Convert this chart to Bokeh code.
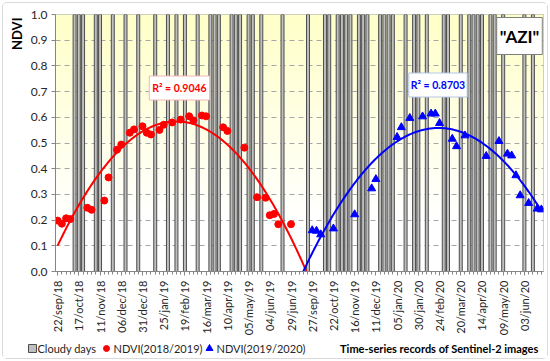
import numpy as np
from bokeh.plotting import figure
from bokeh.layouts import column
from bokeh.models import FixedTicker, Label, Range1d, Title
from bokeh.embed import file_html
from bokeh.resources import INLINE
from bokeh.core.properties import value

# ---------------- data (category index = Sentinel-2 acquisition slot) ----------------
tick_positions = list(range(0, 115, 5))
tick_labels = ["22/sep/18", "17/oct/18", "11/nov/18", "06/dec/18", "31/dec/18",
               "25/jan/19", "19/feb/19", "16/mar/19", "10/apr/19", "05/may/19",
               "04/jun/19", "29/jun/19", "27/sep/19", "22/oct/19", "16/nov/19",
               "11/dec/19", "05/jan/20", "30/jan/20", "24/feb/20", "20/mar/20",
               "14/apr/20", "09/may/20", "03/jun/20"]

cloudy_x = [4, 5, 6, 9, 10, 13, 16, 19, 23, 26, 28, 30, 33, 36, 37, 38, 41, 42, 43,
            45, 46, 48, 53, 59, 63, 64, 66, 67, 68, 69, 71, 72, 73, 76, 77, 78, 79,
            82, 84, 85, 87, 91, 92, 95, 97, 98, 99, 100, 102, 103, 105, 110, 112]

red_x = [0, 1, 2, 3, 7, 8, 11, 12, 14, 15, 17, 18, 20, 21, 22, 24, 25, 27, 29, 31,
         32, 34, 35, 39, 40, 44, 47, 49, 50, 51, 52, 55]
red_y = [0.198, 0.186, 0.207, 0.204, 0.248, 0.240, 0.276, 0.366, 0.474, 0.494,
         0.540, 0.553, 0.565, 0.540, 0.533, 0.551, 0.571, 0.580, 0.591, 0.604,
         0.588, 0.607, 0.604, 0.561, 0.547, 0.482, 0.289, 0.287, 0.219, 0.224,
         0.184, 0.184]

blue_x = [60, 61, 62, 65, 70, 74, 75, 80, 81, 83, 86, 88, 89, 90, 93, 94, 96, 101,
          104, 106, 107, 108, 109, 111, 113, 114]
blue_y = [0.160, 0.158, 0.144, 0.167, 0.222, 0.323, 0.359, 0.523, 0.561, 0.597,
          0.603, 0.614, 0.614, 0.577, 0.516, 0.487, 0.529, 0.449, 0.507, 0.458,
          0.451, 0.374, 0.296, 0.266, 0.244, 0.241]

r2_red = "R\u00b2 = 0.9046"
r2_blue = "R\u00b2 = 0.8703"
site = "\"AZI\""
legend_labels = ["Cloudy days", "NDVI(2018/2019)", "NDVI(2019/2020)"]
footer = "Time-series records of Sentinel-2 images"

FONT = "Lato"
N_CAT = 115
C_RED, C_BLUE = "#FF0000", "#0000FF"
BAR_FILL, BAR_LINE = "#BFBFBF", "#4D4D4D"

p = figure(width=544, height=335, output_backend="svg", toolbar_location=None,
           x_range=Range1d(-0.5, N_CAT - 0.5), y_range=Range1d(0, 1.0),
           min_border_left=50, min_border_right=4, min_border_top=11, min_border_bottom=67,
           background_fill_color="white", border_fill_color="white")
p.outline_line_color = "#BFBFBF"
p.frame_align = False

# gradient background (pale yellow at top -> white)
rows = 256
img = np.zeros((rows, 1), dtype=np.uint32)
view = img.view(dtype=np.uint8).reshape((rows, 1, 4))
for i in range(rows):
    yv = i / (rows - 1)
    t = min(max((yv - 0.2) / 0.8, 0.0), 1.0)
    view[i, 0, 0] = 255
    view[i, 0, 1] = 255
    view[i, 0, 2] = int(round(255 - t * 55))
    view[i, 0, 3] = 255
p.image_rgba(image=[img], x=-0.5, y=0, dw=N_CAT, dh=1.0, level="image")

# grid
p.xgrid.visible = False
p.ygrid.grid_line_color = "#A6A6A6"
p.ygrid.grid_line_dash = "5 4"
p.ygrid.grid_line_width = 1

# cloudy bars
p.vbar(x=cloudy_x, top=1.0, bottom=0, width=0.7, fill_color=BAR_FILL,
       line_color=BAR_LINE, line_width=1)

# trend lines (2nd-order polynomial fit, as in the original)
xs = np.linspace(0, N_CAT - 1, 400)
rc = np.polyfit(red_x, red_y, 2)
bc = np.polyfit(blue_x, blue_y, 2)
p.line(xs, np.polyval(rc, xs), line_color=C_RED, line_width=2)
p.line(xs, np.polyval(bc, xs), line_color=C_BLUE, line_width=2)

p.scatter(red_x, red_y, marker="circle", size=7, fill_color=C_RED, line_color=C_RED)
p.scatter(blue_x, blue_y, marker="triangle", size=8, fill_color=C_BLUE, line_color=C_BLUE)

# axes
xa = p.xaxis[0]
xa.ticker = FixedTicker(ticks=tick_positions, minor_ticks=list(range(N_CAT)))
xa.major_label_overrides = {t: l for t, l in zip(tick_positions, tick_labels)}
xa.major_label_orientation = np.pi / 2
xa.major_label_text_font = FONT
xa.major_label_text_font_size = "11px"
xa.major_label_text_color = "#262626"
xa.major_label_standoff = 5
xa.major_tick_in = 0
xa.major_tick_out = 4
xa.minor_tick_in = 0
xa.minor_tick_out = 3
xa.axis_line_color = "#868686"
xa.major_tick_line_color = "#868686"
xa.minor_tick_line_color = "#868686"

ya = p.yaxis[0]
ya.ticker = FixedTicker(ticks=[i / 10 for i in range(11)])
ya.major_label_overrides = {i / 10: f"{i/10:.1f}" for i in range(11)}
ya.major_label_text_font = FONT
ya.major_label_text_font_size = "12px"
ya.major_label_text_color = "#262626"
ya.major_label_standoff = 4
ya.major_tick_in = 0
ya.major_tick_out = 4
ya.minor_tick_line_color = None
ya.axis_line_color = "#868686"
ya.major_tick_line_color = "#868686"

# y-axis title (near the top, as in the original)
p.add_layout(Title(text="NDVI", align="right", offset=3, text_font=FONT,
                   text_font_size="13px", text_font_style="bold",
                   text_color="#000000", standoff=6), "left")

# R2 boxes
p.add_layout(Label(x=124, y=183.5, x_units="screen", y_units="screen", text=r2_red,
                   text_align="center", text_baseline="middle", text_font=FONT,
                   text_font_size="10.5px", text_font_style="bold", text_color=C_RED,
                   background_fill_color="white", border_line_color="#F4B6B6",
                   border_line_width=1, padding=dict(left=3, right=3, top=6, bottom=6)))
p.add_layout(Label(x=382.5, y=186.5, x_units="screen", y_units="screen", text=r2_blue,
                   text_align="center", text_baseline="middle", text_font=FONT,
                   text_font_size="10.5px", text_font_style="bold", text_color=C_BLUE,
                   background_fill_color="white", border_line_color="#B4C7E7",
                   border_line_width=1, padding=dict(left=2, right=2, top=6, bottom=6)))
p.add_layout(Label(x=464, y=235.5, x_units="screen", y_units="screen", text=site,
                   text_align="center", text_baseline="middle", text_font=FONT,
                   text_font_size="17px", text_font_style="bold", text_color="#000000",
                   background_fill_color="white", border_line_color="#7F7F7F",
                   border_line_width=1, padding=dict(left=3, right=3, top=8, bottom=8)))

# ---------------- legend row ----------------
q = figure(width=544, height=20, output_backend="svg", toolbar_location=None,
           x_range=Range1d(0, 544), y_range=Range1d(0, 20),
           min_border_left=0, min_border_right=0, min_border_top=0, min_border_bottom=0,
           background_fill_color="white", border_fill_color="white")
q.axis.visible = False
q.grid.visible = False
q.outline_line_color = None
q.frame_align = False

key_x = [29, 103, 206]
text_x = [34, 110, 213]
key_y = 10
q.scatter([key_x[0]], [key_y], marker="square", size=8, fill_color=BAR_FILL, line_color=BAR_LINE)
q.scatter([key_x[1]], [key_y], marker="circle", size=6, fill_color=C_RED, line_color=C_RED)
q.scatter([key_x[2]], [key_y], marker="triangle", size=7, fill_color=C_BLUE, line_color=C_BLUE)
q.text(x=text_x, y=[key_y] * 3, text=legend_labels, text_align="left",
       text_baseline="middle", text_font=value(FONT), text_font_size="11px",
       text_color="#262626")
q.text(x=[535], y=[key_y], text=[footer], text_align="right", text_baseline="middle",
       text_font=value(FONT), text_font_size="11px", text_font_style="bold",
       text_color="#000000")

layout = column(p, q, margin=2, styles={"border": "1px solid #D9D9D9", "border-radius": "5px"})

open("out.html", "w").write(file_html(layout, INLINE))
